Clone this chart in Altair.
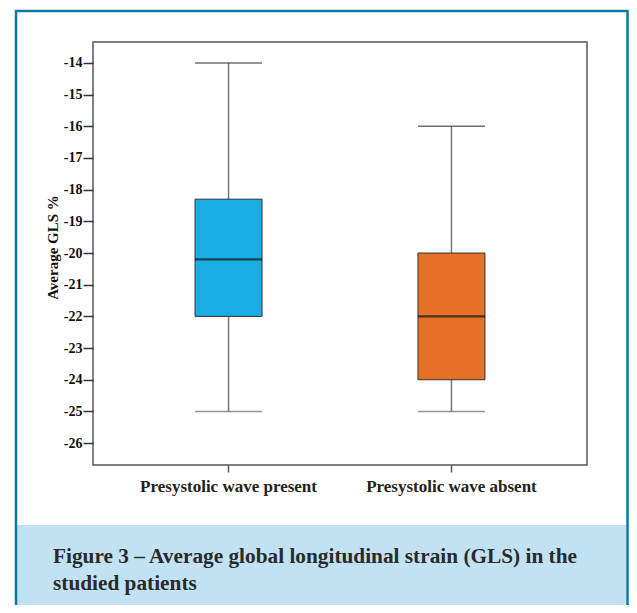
import altair as alt
import pandas as pd

groups = ["Presystolic wave present", "Presystolic wave absent"]
mins = [-25, -25]
q1s = [-22, -24]
medians = [-20.2, -22]
q3s = [-18.3, -20]
maxs = [-14, -16]
colors = ["#19ade4", "#e47125"]
y_ticks = [-14, -15, -16, -17, -18, -19, -20, -21, -22, -23, -24, -25, -26]
caption = ["Figure 3 \u2013 Average global longitudinal strain (GLS) in the", "studied patients"]

df = pd.DataFrame({"group": groups, "min": mins, "q1": q1s, "median": medians,
                   "q3": q3s, "max": maxs, "color": colors})

W, H = 494, 423
SERIF = "Liberation Serif"

xs = alt.X("group:N", sort=groups, title=None,
           scale=alt.Scale(paddingInner=0, paddingOuter=0.108),
           axis=alt.Axis(labelAngle=0, labelFont=SERIF, labelFontWeight="bold",
                         labelFontSize=17, labelColor="#222", tickSize=7,
                         tickColor="#555", tickWidth=1.5, labelPadding=6,
                         domain=False))
yscale = alt.Scale(domain=[-26.69, -13.34], nice=False, zero=False)
yax = alt.Axis(values=y_ticks, grid=False, domain=False, tickSize=10, tickColor="#333",
               tickWidth=1.5, labelFont=SERIF, labelFontWeight="bold", labelFontSize=14,
               labelColor="#111", labelPadding=1, labelOverlap=False,
               labelExpr="'-' + format(abs(datum.value), 'd')",
               title="Average GLS %", titleFont=SERIF, titleFontWeight="bold",
               titleFontSize=15, titleColor="#111", titleX=-41, titleY=205,
               titleBaseline="middle", titleAngle=270)


def Y(field):
    return alt.Y(field, scale=yscale, axis=yax)


base = alt.Chart(df)
whisk = base.mark_rule(color="#777", strokeWidth=1.5).encode(
    x=xs, y=Y("min:Q"), y2="max:Q")
box = base.mark_bar(size=67, stroke="#333", strokeWidth=1).encode(
    x=xs, y=Y("q1:Q"), y2="q3:Q", color=alt.Color("color:N", scale=None))
med = base.mark_tick(size=67, thickness=2.2, color="#111").encode(x=xs, y=Y("median:Q"))
capmin = base.mark_tick(size=67, thickness=1.5, color="#666").encode(x=xs, y=Y("min:Q"))
capmax = base.mark_tick(size=67, thickness=1.5, color="#333").encode(x=xs, y=Y("max:Q"))

one = alt.Data(values=[{"k": 1}])
band = alt.Chart(one).mark_rect(color="#c1e2f3").encode(
    x=alt.value(-76), x2=alt.value(533), y=alt.value(483), y2=alt.value(570))
border = alt.Chart(one).mark_rect(fill=None, stroke="#0b7aa6", strokeWidth=2.5).encode(
    x=alt.value(-77), x2=alt.value(534.5), y=alt.value(-31), y2=alt.value(620))
cap = alt.Chart(one).mark_text(align="left", baseline="alphabetic", font=SERIF,
                               fontWeight="bold", fontSize=21.3, color="#2a2a2a",
                               lineHeight=27).encode(
    x=alt.value(-40), y=alt.value(521), text=alt.value(caption))

chart = alt.layer(band, border, whisk, box, med, capmin, capmax, cap).properties(
    width=W, height=H, autosize=alt.AutoSizeParams(type="none"),
    padding={"left": 85, "top": 34, "right": 42, "bottom": 140},
    background="white"
).configure_view(stroke="#555", strokeWidth=1.5)

chart.save("out.html", embed_options={"renderer": "svg", "actions": False})
